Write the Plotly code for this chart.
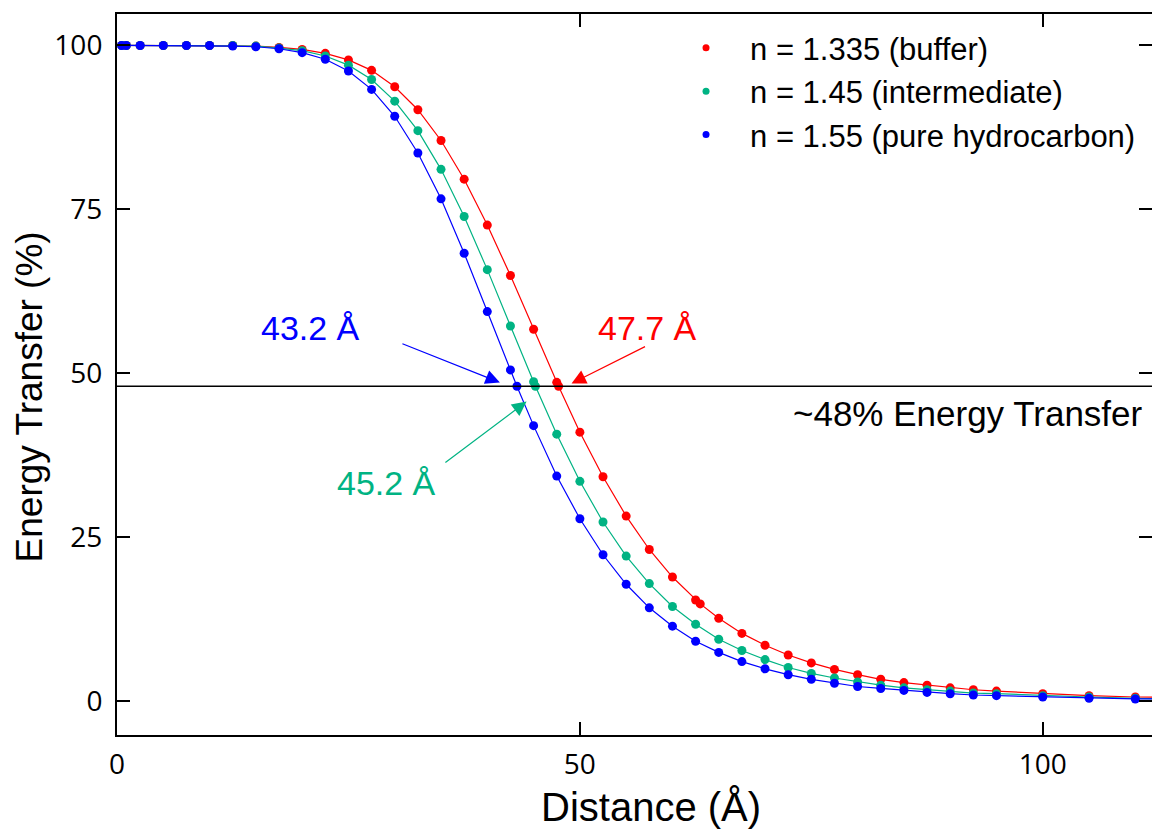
import plotly.graph_objects as go

# ---- data ----
dist_red = [0.5, 1, 2.5, 5, 7.5, 10, 12.5, 15, 17.5, 20, 22.5, 25, 27.5, 30, 32.5, 35, 37.5, 40, 42.5, 45,
            47.5, 47.7, 50, 52.5, 55, 57.5, 60, 62.5, 63, 65, 67.5, 70, 72.5, 75, 77.5, 80, 82.5, 85, 87.5,
            90, 92.5, 95, 100, 105, 110, 115]
et_red = [100.0, 100.0, 100.0, 100.0, 100.0, 100.0, 100.0, 99.9, 99.7, 99.4, 98.8, 97.8, 96.2, 93.7, 90.2,
          85.5, 79.6, 72.6, 64.9, 56.7, 48.6, 48.0, 41.0, 34.2, 28.2, 23.1, 18.9, 15.4, 14.8, 12.6, 10.3,
          8.5, 7.0, 5.8, 4.8, 4.0, 3.3, 2.8, 2.4, 2.0, 1.7, 1.5, 1.1, 0.8, 0.6, 0.5]

dist_green = [0.5, 1, 2.5, 5, 7.5, 10, 12.5, 15, 17.5, 20, 22.5, 25, 27.5, 30, 32.5, 35, 37.5, 40, 42.5,
              45, 45.2, 47.5, 50, 52.5, 55, 57.5, 60, 62.5, 65, 67.5, 70, 72.5, 75, 77.5, 80, 82.5, 85,
              87.5, 90, 92.5, 95, 100, 105, 110, 115]
et_green = [100.0, 100.0, 100.0, 100.0, 100.0, 100.0, 100.0, 99.9, 99.6, 99.2, 98.4, 97.0, 94.8, 91.5,
            87.0, 81.1, 73.9, 65.8, 57.2, 48.7, 48.0, 40.7, 33.5, 27.3, 22.1, 17.9, 14.4, 11.7, 9.4, 7.7,
            6.3, 5.1, 4.2, 3.5, 2.9, 2.4, 2.0, 1.7, 1.5, 1.2, 1.1, 0.8, 0.6, 0.4, 0.3]

dist_blue = [0.5, 1, 2.5, 5, 7.5, 10, 12.5, 15, 17.5, 20, 22.5, 25, 27.5, 30, 32.5, 35, 37.5, 40, 42.5,
             43.2, 45, 47.5, 50, 52.5, 55, 57.5, 60, 62.5, 65, 67.5, 70, 72.5, 75, 77.5, 80, 82.5, 85,
             87.5, 90, 92.5, 95, 100, 105, 110, 115]
et_blue = [100.0, 100.0, 100.0, 100.0, 100.0, 100.0, 99.9, 99.8, 99.5, 98.9, 97.9, 96.1, 93.3, 89.2, 83.6,
           76.6, 68.3, 59.4, 50.5, 48.0, 42.0, 34.3, 27.8, 22.3, 17.8, 14.2, 11.4, 9.1, 7.4, 6.0, 4.9,
           4.0, 3.3, 2.7, 2.2, 1.9, 1.6, 1.3, 1.1, 0.9, 0.8, 0.6, 0.4, 0.3, 0.3]

series_names = ["n = 1.335 (buffer)", "n = 1.45 (intermediate)", "n = 1.55 (pure hydrocarbon)"]
series_colors = ["#ff0000", "#00b383", "#0000ff"]

threshold = 48.0
x_ticks = [0, 50, 100]
y_ticks = [0, 25, 50, 75, 100]

# callout labels and arrows (data coordinates)
label_texts = ["43.2 Å", "47.7 Å", "45.2 Å"]
label_x = [20.95, 57.3, 29.1]
label_y = [56.9, 56.9, 33.2]
arrow_tail_x = [30.67, 57.20, 35.31]
arrow_tail_y = [54.59, 54.17, 36.19]
arrow_head_x = [41.36, 49.10, 44.24]
arrow_head_y = [48.58, 48.43, 45.67]
label_colors = ["#0000ff", "#ff0000", "#00b383"]

FONT = "Liberation Sans, Arial"

fig = go.Figure()
for xs, ys, name, col in zip([dist_red, dist_green, dist_blue], [et_red, et_green, et_blue],
                             series_names, series_colors):
    fig.add_trace(go.Scatter(
        x=xs, y=ys, name=name, mode="lines+markers", showlegend=False,
        line=dict(color=col, width=1.2),
        marker=dict(color=col, size=9, symbol="circle"),
    ))
# legend entries: marker-only symbols, as in the reference
for name, col in zip(series_names, series_colors):
    fig.add_trace(go.Scatter(x=[None], y=[None], name=name, mode="markers",
                             marker=dict(color=col, size=7, symbol="circle")))

fig.add_shape(type="line", xref="paper", x0=0, x1=1, yref="y", y0=threshold, y1=threshold,
              line=dict(color="black", width=1.5))

for t, x, y, c in zip(label_texts, label_x, label_y, label_colors):
    fig.add_annotation(x=x, y=y, text=t, showarrow=False,
                       font=dict(family=FONT, size=34, color=c))

for tx, ty, hx, hy, c in zip(arrow_tail_x, arrow_tail_y, arrow_head_x, arrow_head_y, label_colors):
    fig.add_annotation(x=hx, y=hy, ax=tx, ay=ty, axref="x", ayref="y", text="",
                       showarrow=True, arrowhead=2, arrowsize=2.4, arrowwidth=1.2, arrowcolor=c)

fig.add_annotation(x=91.9, y=43.9, text="~48% Energy Transfer", showarrow=False,
                   font=dict(family=FONT, size=35, color="black"))

# axis titles
fig.add_annotation(xref="paper", yref="paper", x=-0.1054, y=0.4688, text="Energy Transfer (%)",
                   textangle=-90, showarrow=False,
                   font=dict(family=FONT, size=37, color="black"))
fig.add_annotation(xref="paper", yref="paper", x=0.516, y=-0.1332, text="Distance (Å)",
                   showarrow=False, font=dict(family=FONT, size=40, color="black"))

axis_common = dict(showline=True, linecolor="black", linewidth=2, mirror="ticks",
                   ticks="inside", ticklen=13, tickwidth=2, tickcolor="black",
                   showgrid=False, zeroline=False,
                   tickfont=dict(family="Open Sans, Noto Sans", size=28, color="black"))

fig.update_xaxes(range=[0, 111.8], tickvals=x_ticks, ticklabelstandoff=3, **axis_common)
fig.update_yaxes(range=[-5.2, 104.8], tickvals=y_ticks, ticklabelstandoff=7, **axis_common)

fig.update_layout(
    width=1152, height=830,
    margin=dict(l=117, r=0, t=14, b=95, autoexpand=False),
    plot_bgcolor="white", paper_bgcolor="white",
    legend=dict(x=0.5266, y=0.99, xanchor="left", yanchor="top", bgcolor="rgba(0,0,0,0)",
                font=dict(family=FONT, size=31, color="black"),
                itemwidth=78, tracegroupgap=0),
)

# remove the default page margin / scrollbars so the figure fills the window exactly
page_fix = ("document.body.style.margin='0';document.body.style.overflow='hidden';"
            "document.documentElement.style.overflow='hidden';")
fig.write_html("out.html", post_script=page_fix, config={"displayModeBar": False})
